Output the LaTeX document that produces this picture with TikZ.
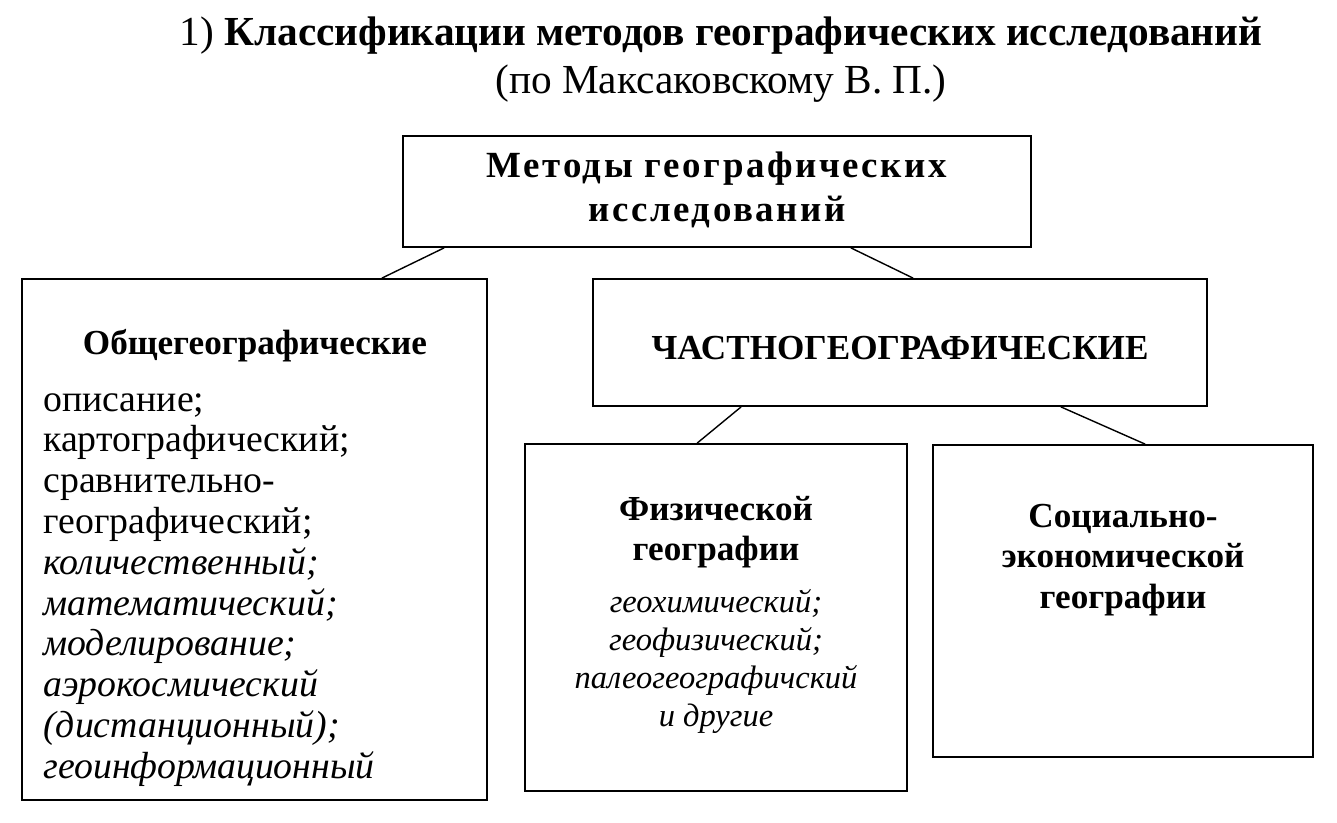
\documentclass[tikz,border=0pt]{standalone}
\usepackage{fontspec}
\setmainfont{Liberation Serif}
\usetikzlibrary{calc}
\tikzset{box/.style={draw=black, line width=1pt, inner sep=0pt},
  head/.style={font=\fontsize{20}{23}\selectfont\bfseries, align=center},
  list/.style={font=\fontsize{21.5}{23.2}\selectfont, align=left, inner sep=0pt},
  sub/.style={font=\fontsize{18.5}{21.6}\selectfont\itshape, align=center}}
\begin{document}
\begin{tikzpicture}
\useasboundingbox (0,0) rectangle (26.74,16.44);
% title
\node (title) at (14.42,15.72) {\fontsize{23.5}{28}\selectfont 1) \textbf{Классификации методов географических исследований}};
\node (sub) at (14.42,14.76) {\fontsize{23.5}{28}\selectfont (по Максаковскому В. П.)};
% boxes
\node[box, minimum width=12.56cm, minimum height=2.22cm] (top) at (14.34,12.61) {};
\node[box, minimum width=9.30cm, minimum height=10.42cm] (left) at (5.09,5.65) {};
\node[box, minimum width=12.28cm, minimum height=2.54cm] (chast) at (18.0,9.59) {};
\node[box, minimum width=7.64cm, minimum height=6.94cm] (phys) at (14.32,4.09) {};
\node[box, minimum width=7.60cm, minimum height=6.24cm] (soc) at (22.46,4.42) {};
% texts
\node[head, font=\fontsize{21}{25}\selectfont\bfseries\addfontfeature{LetterSpace=7}] (toptext) at (14.34,12.64) {Методы географических\\исследований};
\node[head] (obsh) at (5.10,9.52) {Общегеографические};
\node[list, anchor=north west] (obshlist) at (0.86,8.58) {описание;\\картографический;\\сравнительно-\\географический;\\\textit{количественный;}\\\textit{математический;}\\\textit{моделирование;}\\\textit{аэрокосмический}\\\textit{(дистанционный);}\\\textit{геоинформационный}};
\node[head] (chasttext) at (18.0,9.48) {ЧАСТНОГЕОГРАФИЧЕСКИЕ};
\node[head] (physhead) at (14.32,5.80) {Физической\\географии};
\node[sub] (physlist) at (14.32,3.22) {геохимический;\\геофизический;\\палеогеографичский\\и другие};
\node[head] (sochead) at (22.46,5.24) {Социально-\\экономической\\географии};
% connectors
\draw[line width=0.8pt] ([xshift=0.84cm]top.south west) -- ([xshift=-2.12cm]left.north east);
\draw[line width=0.8pt] ([xshift=-3.62cm]top.south east) -- ([xshift=6.42cm]chast.north west);
\draw[line width=0.8pt] ([xshift=2.98cm]chast.south west) -- ([xshift=3.46cm]phys.north west);
\draw[line width=0.8pt] ([xshift=-2.94cm]chast.south east) -- ([xshift=4.26cm]soc.north west);
\end{tikzpicture}
\end{document}
